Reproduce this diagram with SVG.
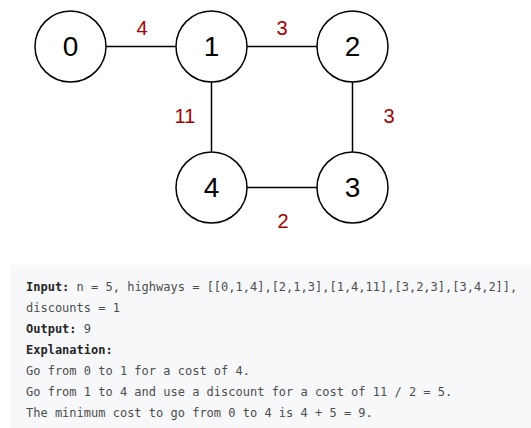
<svg xmlns="http://www.w3.org/2000/svg" width="531" height="428" viewBox="0 0 531 428">
<style>
.node circle{fill:#fff;stroke:#000;stroke-width:1.5}
.node text{font-family:"Liberation Sans",Arial,sans-serif;font-size:28px;fill:#000;text-anchor:middle}
.edges line{stroke:#000;stroke-width:1.5}
.lbl{font-family:"Liberation Sans",Arial,sans-serif;font-size:20px;fill:#a20000;text-anchor:middle}
.code{font-family:"DejaVu Sans Mono","Liberation Mono",monospace;font-size:12px;fill:#4d4d4d}
.code .b{font-weight:bold;fill:#262626}
</style>
<rect x="0" y="0" width="531" height="428" fill="#fff"/>
<g id="edges" class="edges">
<line x1="106" y1="46.5" x2="176" y2="46.5"/>
<line x1="247" y1="46.5" x2="317" y2="46.5"/>
<line x1="211.5" y1="82" x2="211.5" y2="152"/>
<line x1="352.5" y1="82" x2="352.5" y2="152"/>
<line x1="247" y1="187.5" x2="317" y2="187.5"/>
<text class="lbl" x="142" y="35">4</text>
<text class="lbl" x="282" y="35">3</text>
<text class="lbl" x="185" y="123">11</text>
<text class="lbl" x="389" y="123">3</text>
<text class="lbl" x="283" y="228">2</text>
</g>
<g id="n0" class="node"><circle cx="70.5" cy="46.5" r="35.5"/><text x="70.5" y="56">0</text></g>
<g id="n1" class="node"><circle cx="211.5" cy="46.5" r="35.5"/><text x="211.5" y="56">1</text></g>
<g id="n2" class="node"><circle cx="352.5" cy="46.5" r="35.5"/><text x="352.5" y="56">2</text></g>
<g id="n4" class="node"><circle cx="211.5" cy="187.5" r="35.5"/><text x="211.5" y="197">4</text></g>
<g id="n3" class="node"><circle cx="352.5" cy="187.5" r="35.5"/><text x="352.5" y="197">3</text></g>
<rect x="10" y="265" width="521" height="163" fill="#f7f8fa"/>
<g class="code">
<text x="26" y="291"><tspan class="b">Input:</tspan> n = 5, highways = [[0,1,4],[2,1,3],[1,4,11],[3,2,3],[3,4,2]],</text>
<text x="26" y="312">discounts = 1</text>
<text x="26" y="333"><tspan class="b">Output:</tspan> 9</text>
<text x="26" y="354"><tspan class="b">Explanation:</tspan></text>
<text x="26" y="375">Go from 0 to 1 for a cost of 4.</text>
<text x="26" y="396">Go from 1 to 4 and use a discount for a cost of 11 / 2 = 5.</text>
<text x="26" y="417">The minimum cost to go from 0 to 4 is 4 + 5 = 9.</text>
</g>
</svg>
